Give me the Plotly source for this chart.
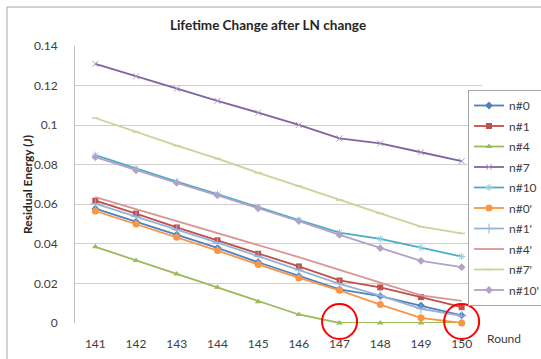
import plotly.graph_objects as go

rounds = [141, 142, 143, 144, 145, 146, 147, 148, 149, 150]
tick_labels = ["141", "142", "143", "144", "145", "146", "147", "148", "149", "150"]
y_ticks = [0, 0.02, 0.04, 0.06, 0.08, 0.1, 0.12, 0.14]
y_tick_labels = ["0", "0.02", "0.04", "0.06", "0.08", "0.1", "0.12", "0.14"]

n0 = [0.0578, 0.0512, 0.0447, 0.0380, 0.0307, 0.0237, 0.0170, 0.0136, 0.0088, 0.0039]
n1 = [0.0618, 0.0553, 0.0483, 0.0418, 0.0350, 0.0286, 0.0215, 0.0180, 0.0131, 0.0080]
n4 = [0.0385, 0.0316, 0.0248, 0.0181, 0.0108, 0.0043, 0.0, 0.0, 0.0, 0.0]
n7 = [0.1310, 0.1247, 0.1184, 0.1123, 0.1063, 0.1001, 0.0933, 0.0908, 0.0863, 0.0818]
n10 = [0.0848, 0.0780, 0.0714, 0.0652, 0.0585, 0.0520, 0.0457, 0.0425, 0.0381, 0.0336]
n0p = [0.0566, 0.0500, 0.0433, 0.0366, 0.0296, 0.0228, 0.0165, 0.0093, 0.0026, 0.0]
n1p = [0.0603, 0.0538, 0.0472, 0.0406, 0.0338, 0.0268, 0.0198, 0.0138, 0.0072, 0.0036]
n4p = [0.0636, 0.0576, 0.0515, 0.0455, 0.0393, 0.0333, 0.0268, 0.0205, 0.0140, 0.0112]
n7p = [0.1036, 0.0965, 0.0896, 0.0831, 0.0759, 0.0692, 0.0621, 0.0554, 0.0487, 0.0453]
n10p = [0.0838, 0.0772, 0.0708, 0.0645, 0.0580, 0.0515, 0.0445, 0.0378, 0.0314, 0.0282]

series_names = ["n#0", "n#1", "n#4", "n#7", "n#10", "n#0'", "n#1'", "n#4'", "n#7'", "n#10'"]
series_values = [n0, n1, n4, n7, n10, n0p, n1p, n4p, n7p, n10p]

# style: (line color, marker color, symbol, size, marker line width)
styles = [
    ("#4F81BD", "#4F81BD", "diamond", 6, 0),
    ("#C0504D", "#C0504D", "square", 6, 0),
    ("#9BBB59", "#9BBB59", "triangle-up", 6, 0),
    ("#8064A2", "#A99BC0", "x-thin-open", 6, 1),
    ("#4BACC6", "#8DCFE0", "asterisk-open", 6, 1),
    ("#F79646", "#F79646", "circle", 7, 0),
    ("#95B3D7", "#95B3D7", "cross-thin-open", 7, 1),
    ("#D99694", "#D99694", None, 0, 0),
    ("#C3D69B", "#C3D69B", "line-ew-open", 5, 1.5),
    ("#B3A2C7", "#B3A2C7", "diamond", 6, 0),
]

FONT = "Lato"
fig = go.Figure()
for name, vals, (col, mcol, sym, size, mlw) in zip(series_names, series_values, styles):
    if sym is None:
        mode = "lines"
        marker = None
    else:
        mode = "lines+markers"
        marker = dict(symbol=sym, size=size, color=mcol, line=dict(color=mcol, width=mlw))
    fig.add_trace(go.Scatter(
        x=rounds, y=vals, name=name, mode=mode,
        line=dict(color=col, width=1.8),
        marker=marker, legendgroup=name, cliponaxis=False,
    ))

# plot area geometry (pixels)
W, H = 541, 359
L, R, T, B = 75, 59, 46, 36
pw = W - L - R
ph = H - T - B

def px_x(p):
    return (p - L) / pw

def px_y(p):
    return (H - B - p) / ph

shapes = [
    # outer chart border
    dict(type="rect", xref="paper", yref="paper",
         x0=px_x(7), x1=px_x(570), y0=px_y(380), y1=px_y(7),
         line=dict(color="#A6A6A6", width=1), layer="below"),
]
# red highlight circles
for cx in [147, 150]:
    shapes.append(dict(type="circle", xref="x", yref="paper",
                       xsizemode="pixel", ysizemode="pixel",
                       xanchor=cx, yanchor=px_y(321.5),
                       x0=-17.5, x1=17.5, y0=-17.5, y1=17.5,
                       line=dict(color="#FF0000", width=2)))

fig.update_layout(
    width=W, height=H,
    margin=dict(l=L, r=R, t=T, b=B, autoexpand=False),
    paper_bgcolor="white", plot_bgcolor="white",
    font=dict(family=FONT, size=12, color="#404040"),
    title=dict(text="<b>Lifetime Change after LN change</b>",
               x=268 / W, xref="container", xanchor="center",
               y=1 - 25 / H, yref="container", yanchor="middle",
               font=dict(family=FONT, size=13.5, color="#262626")),
    xaxis=dict(range=[140.5, 150.5], tickvals=rounds, ticktext=tick_labels,
               showgrid=False, zeroline=False, showline=False,
               ticks="", ticklabelstandoff=12,
               tickfont=dict(family=FONT, size=12, color="#404040")),
    yaxis=dict(range=[0, 0.14], tickvals=y_ticks, ticktext=y_tick_labels,
               showgrid=True, gridcolor="#CFCFCF", gridwidth=1,
               zeroline=False, showline=True, linecolor="#BFBFBF", linewidth=1,
               ticks="", ticklabelstandoff=14,
               tickfont=dict(family=FONT, size=12, color="#404040")),
    legend=dict(x=px_x(468), y=px_y(90), xanchor="left", yanchor="top",
                xref="paper", yref="paper",
                bgcolor="white", bordercolor="#A6A6A6", borderwidth=1,
                font=dict(family=FONT, size=12, color="#404040"),
                tracegroupgap=1.5, entrywidth=80, entrywidthmode="pixels"),
    shapes=shapes,
    annotations=[
        dict(text="<b>Residual Energy (J)</b>", xref="paper", yref="paper",
             x=px_x(27), y=px_y(185), textangle=-90, showarrow=False,
             xanchor="center", yanchor="middle",
             font=dict(family=FONT, size=12, color="#262626")),
        dict(text="Round", xref="paper", yref="paper",
             x=px_x(504), y=px_y(338), showarrow=False,
             xanchor="center", yanchor="middle",
             font=dict(family=FONT, size=12, color="#404040")),
    ],
)

fig.write_html("out.html")
